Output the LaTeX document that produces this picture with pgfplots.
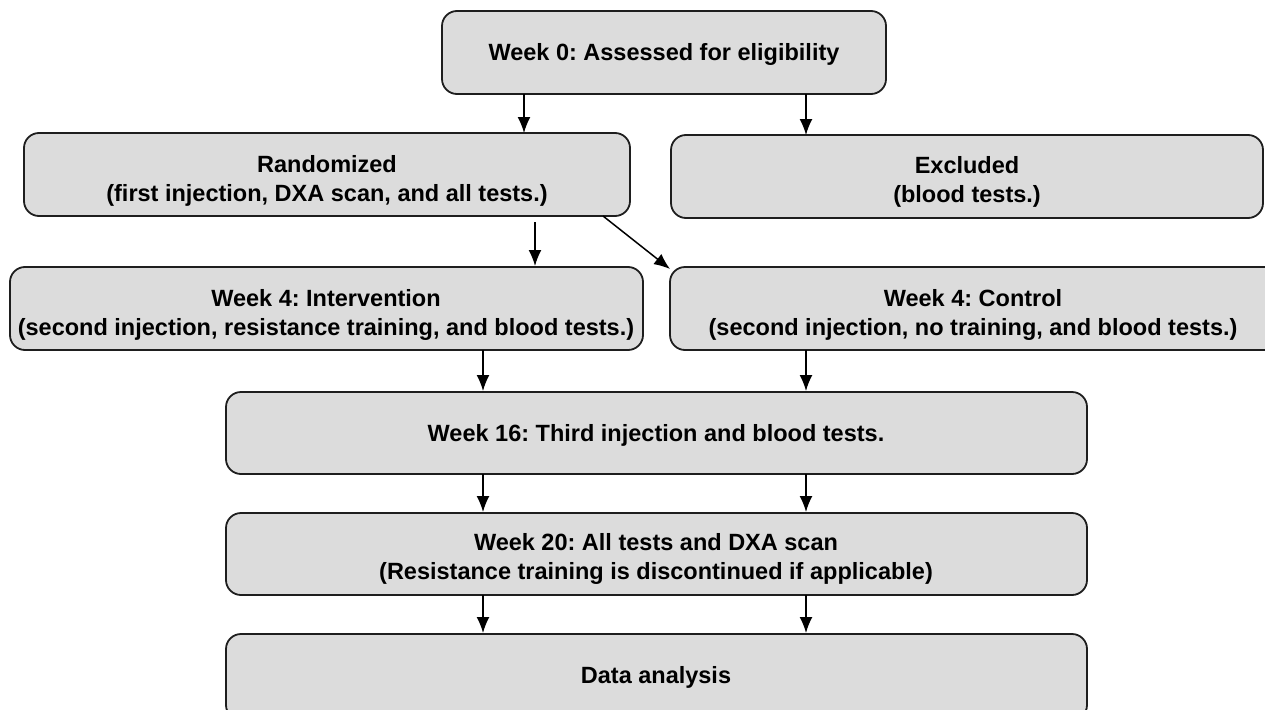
\documentclass[border=0pt]{standalone}
\usepackage{pgfplots}
\pgfplotsset{compat=1.18}
\usepackage{fontspec}
\setmainfont{Liberation Sans}
\usetikzlibrary{arrows.meta}
\definecolor{boxfill}{RGB}{220,220,220}
\definecolor{boxline}{RGB}{30,30,30}
\frenchspacing
\begin{document}
\begin{tikzpicture}
\begin{axis}[
  width=1265pt, height=709pt, scale only axis,
  xmin=0, xmax=1265, ymin=0, ymax=709, y dir=reverse,
  hide axis, clip=true,
]
\tikzset{
  box/.style={draw=boxline, fill=boxfill, line width=1.8pt, rounded corners=15pt},
  lbl/.style={align=center, inner sep=0pt, font=\fontsize{23.5}{28.5}\selectfont\bfseries, text=black},
  arr/.style={line width=1.5pt, -{Latex[length=16pt,width=13pt]}},
}
% boxes
\draw[box] (axis cs:442,11) rectangle (axis cs:886,94);
\draw[box] (axis cs:24,133) rectangle (axis cs:630,216);
\draw[box] (axis cs:671,135) rectangle (axis cs:1263,218);
\draw[box] (axis cs:10,267) rectangle (axis cs:643,350);
\draw[box] (axis cs:670,267) rectangle (axis cs:1290,350);
\draw[box] (axis cs:226,392) rectangle (axis cs:1087,474);
\draw[box] (axis cs:226,513) rectangle (axis cs:1087,595);
\draw[box] (axis cs:226,634) rectangle (axis cs:1087,720);
% texts
\node[lbl] at (axis cs:664,54) {Week 0: Assessed for eligibility};
\node[lbl] at (axis cs:327,181) {Randomized\\(first injection, DXA scan, and all tests.)};
\node[lbl] at (axis cs:967,182) {Excluded\\(blood tests.)};
\node[lbl] at (axis cs:326,315) {Week 4: Intervention\\(second injection, resistance training, and blood tests.)};
\node[lbl] at (axis cs:973,315) {Week 4: Control\\(second injection, no training, and blood tests.)};
\node[lbl] at (axis cs:656,435) {Week 16: Third injection and blood tests.};
\node[lbl] at (axis cs:656,559) {Week 20: All tests and DXA scan\\(Resistance training is discontinued if applicable)};
\node[lbl] at (axis cs:656,677) {Data analysis};
% arrows
\draw[arr] (axis cs:524,94) -- (axis cs:524,133);
\draw[arr] (axis cs:806,94) -- (axis cs:806,135);
\draw[arr] (axis cs:535,222) -- (axis cs:535,266);
\draw[arr] (axis cs:603,216) -- (axis cs:670,269);
\draw[arr] (axis cs:483,350) -- (axis cs:483,391);
\draw[arr] (axis cs:806,350) -- (axis cs:806,391);
\draw[arr] (axis cs:483,474) -- (axis cs:483,512);
\draw[arr] (axis cs:806,474) -- (axis cs:806,512);
\draw[arr] (axis cs:483,595) -- (axis cs:483,633);
\draw[arr] (axis cs:806,595) -- (axis cs:806,633);
\end{axis}
\pgfresetboundingbox
\useasboundingbox (current axis.south west) rectangle (current axis.north east);
\end{tikzpicture}
\end{document}
